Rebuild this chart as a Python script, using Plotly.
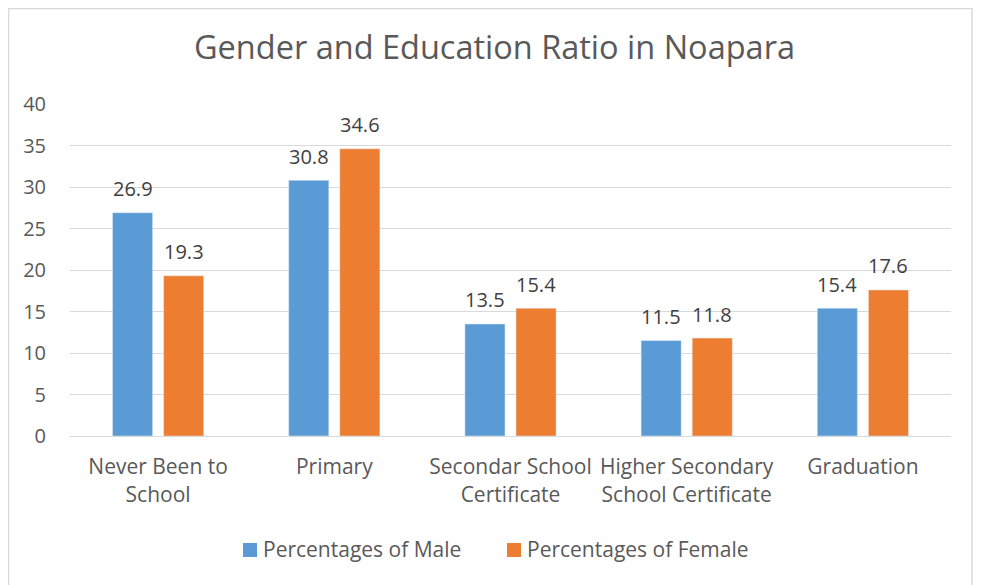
import plotly.graph_objects as go

categories = ["Never Been to<br>School", "Primary", "Secondar School<br>Certificate",
              "Higher Secondary<br>School Certificate", "Graduation"]
male = [26.9, 30.8, 13.5, 11.5, 15.4]
female = [19.3, 34.6, 15.4, 11.8, 17.6]
series_names = ["Percentages of Male", "Percentages of Female"]
y_ticks = [0, 5, 10, 15, 20, 25, 30, 35, 40]

FONT = "Open Sans"
GREY = "#595959"
LABEL = "#404040"
COLORS = ["#5B9BD5", "#ED7D31"]

# page has an 8px body margin; figure pixel = page pixel - 8
W, H = 973, 577
L, R, T, B = 62, 30, 96, 149
pw, ph = W - L - R, H - T - B


def px_x(x):
    return (x - L) / pw


def px_y(y):
    return (T + ph - y) / ph


fig = go.Figure()
for name, vals, col in zip(series_names, (male, female), COLORS):
    fig.add_trace(go.Bar(x=categories, y=vals, name=name, marker_color=col))

annotations = []
for vals, shift in ((male, -25.5), (female, 25.5)):
    for c, v in zip(categories, vals):
        annotations.append(dict(x=c, y=v, xref="x", yref="y", text=f"{v:.1f}",
                                showarrow=False, xshift=shift, yshift=24,
                                yanchor="middle", xanchor="center",
                                font=dict(size=20, color=LABEL, family=FONT)))

# custom legend (square swatch + label)
shapes = []
legend_x = [235, 499]
for name, col, lx in zip(series_names, COLORS, legend_x):
    shapes.append(dict(type="rect", xref="paper", yref="paper",
                       x0=px_x(lx), x1=px_x(lx + 14), y0=px_y(549), y1=px_y(535),
                       fillcolor=col, line=dict(width=0)))
    annotations.append(dict(x=px_x(lx + 18), y=px_y(541), xref="paper", yref="paper",
                            text=name, showarrow=False, xanchor="left", yanchor="middle",
                            font=dict(size=21, color=GREY, family=FONT)))

# chart border
shapes.append(dict(type="rect", xref="paper", yref="paper",
                   x0=px_x(0.5), x1=px_x(964), y0=px_y(700), y1=px_y(0.5),
                   line=dict(color="#D9D9D9", width=1.5), fillcolor="rgba(0,0,0,0)",
                   layer="below"))

fig.update_layout(
    width=W, height=H,
    margin=dict(l=L, r=R, t=T, b=B),
    paper_bgcolor="white", plot_bgcolor="white",
    font=dict(family=FONT, color=GREY, size=21),
    title=dict(text="Gender and Education Ratio in Noapara", x=0.5, xanchor="center",
               y=1 - 40 / H, yanchor="middle", font=dict(size=32.5, color=GREY, family=FONT)),
    barmode="group", bargap=0.42, bargroupgap=0.215,
    showlegend=False,
    annotations=annotations,
    shapes=shapes,
)
fig.update_yaxes(range=[0, 40], tickvals=y_ticks, showgrid=True, gridcolor="#D9D9D9",
                 gridwidth=1, zeroline=False, showline=False, ticks="",
                 ticklabelstandoff=23, tickfont=dict(size=20, color=GREY))
fig.update_xaxes(showline=True, linecolor="#D9D9D9", linewidth=1, ticks="",
                 ticklabelstandoff=12, tickfont=dict(size=21, color=GREY))

fig.write_html("out.html")
